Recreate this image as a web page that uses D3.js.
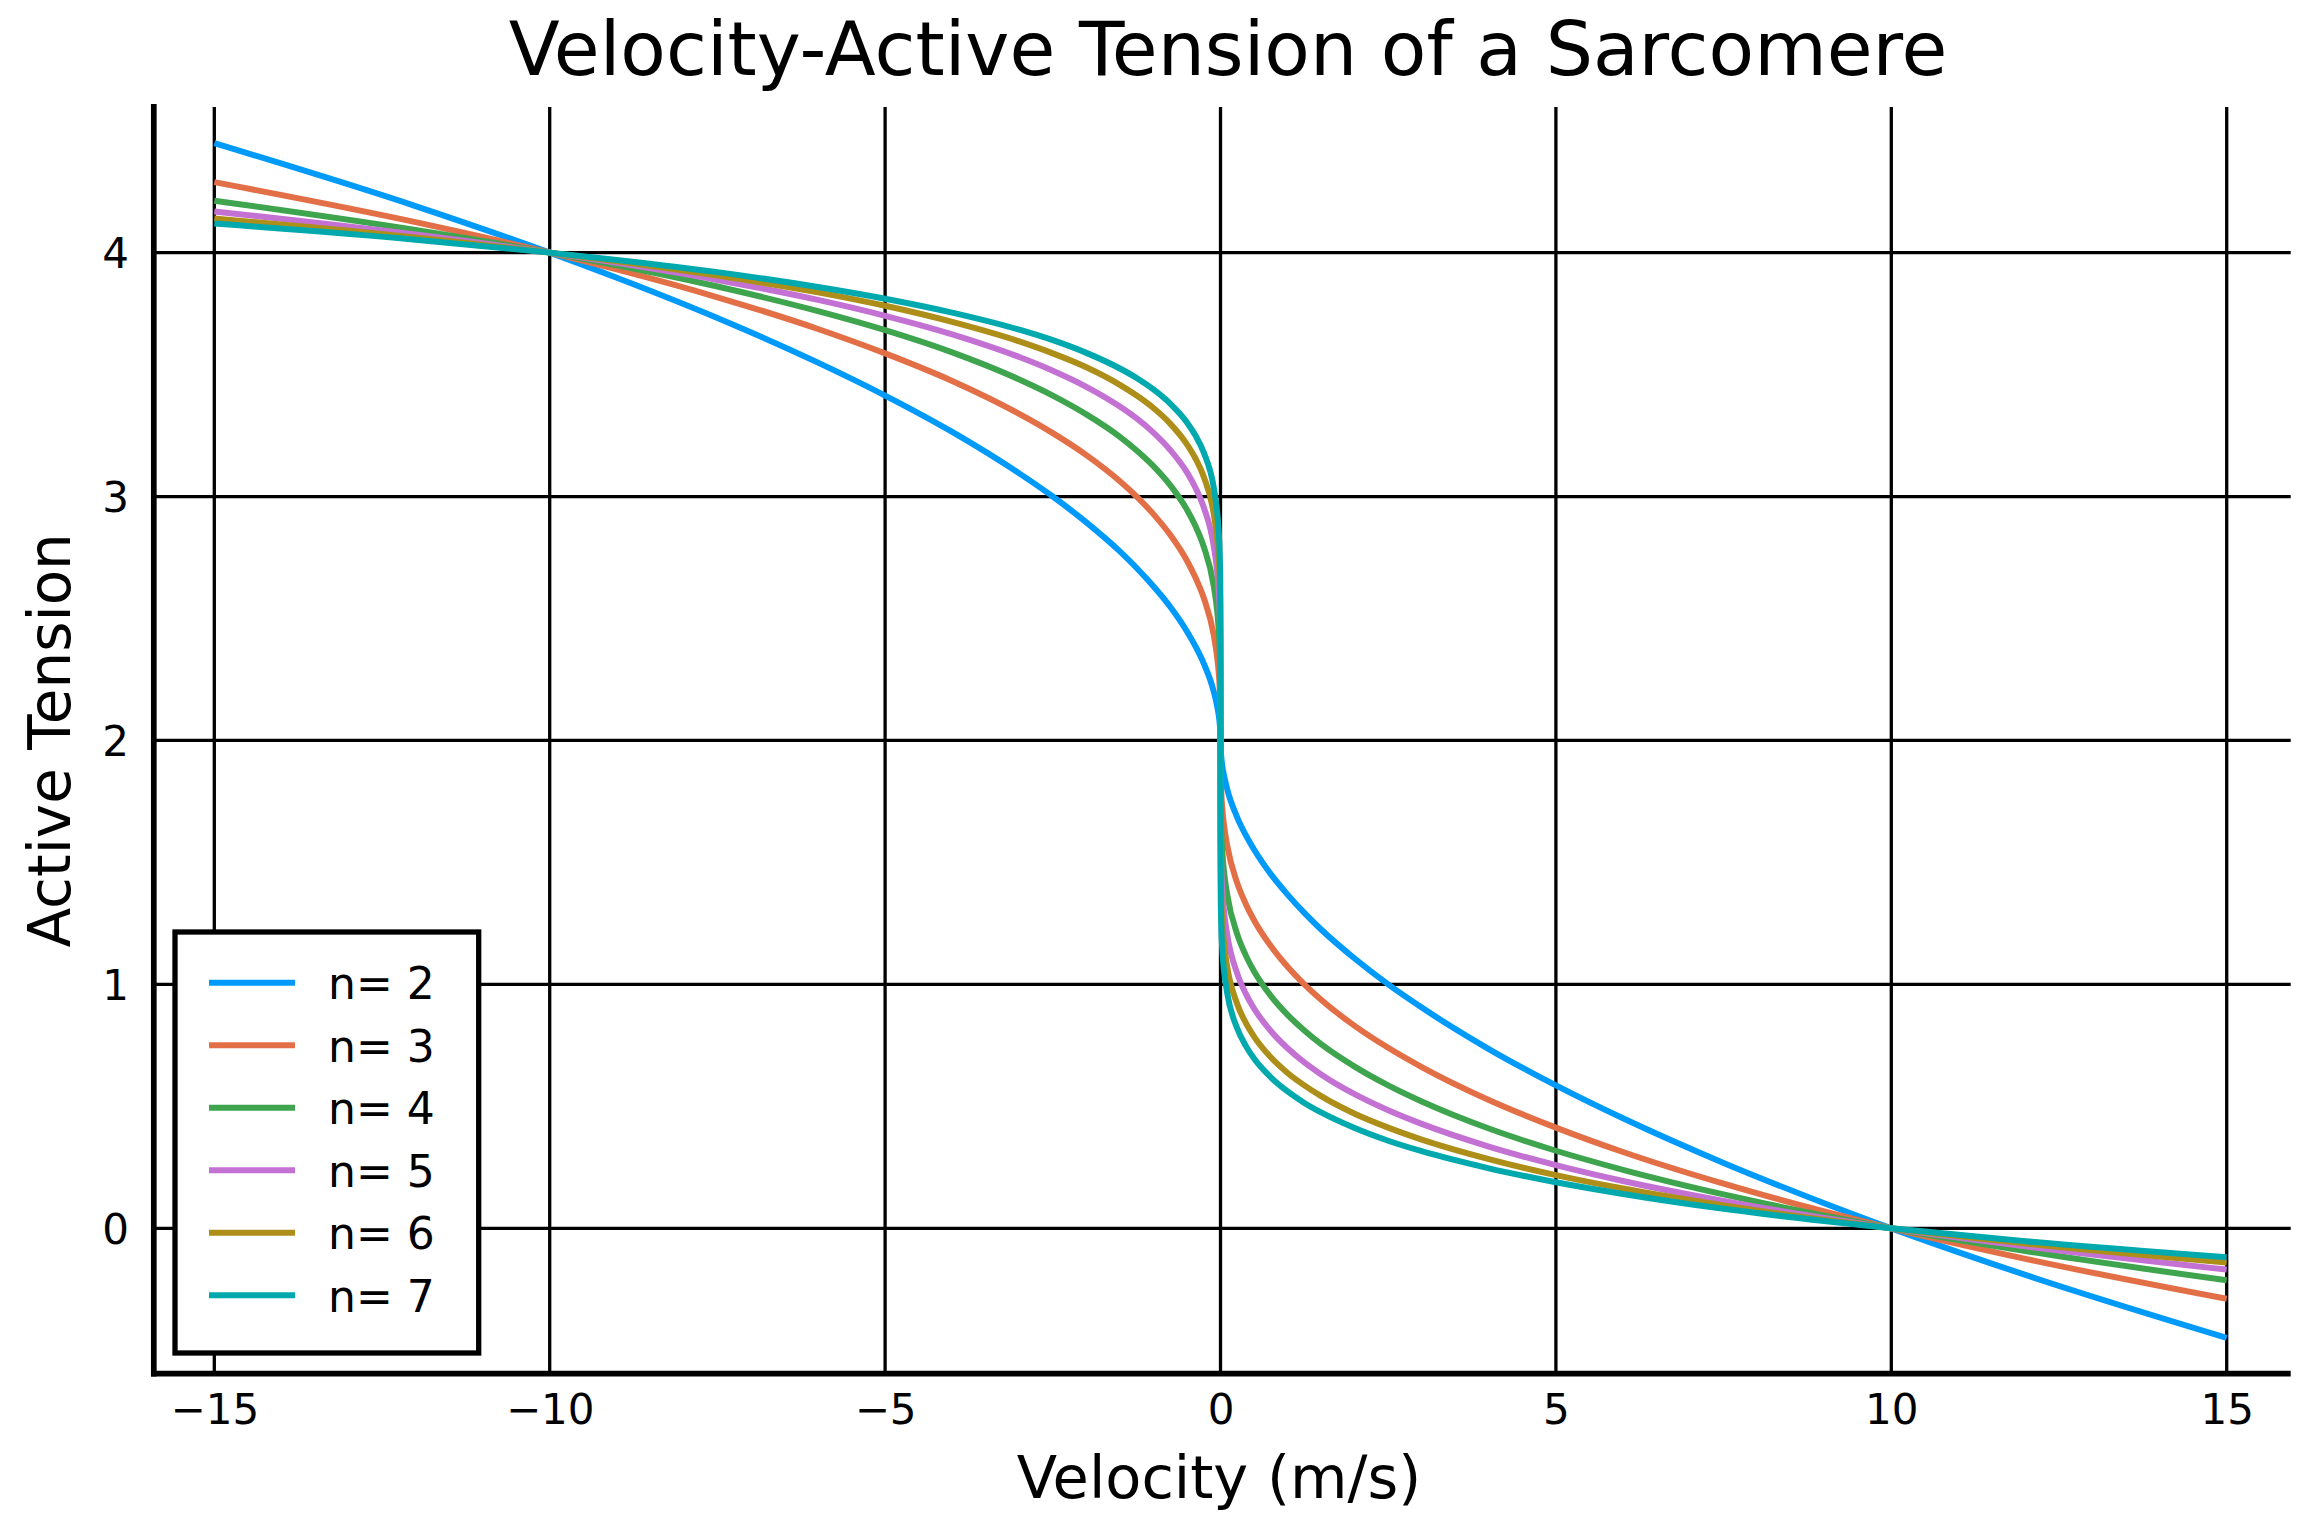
<!DOCTYPE html>
<html>
<head>
<meta charset="utf-8">
<script src="https://cdn.jsdelivr.net/npm/d3@7"></script>
<style>
  body { margin: 0; background: #fff; }
  svg text { font-family: "DejaVu Sans", sans-serif; fill: #000; }
</style>
</head>
<body>
<div id="chart"></div>
<script>
// velocity samples (m/s), denser near zero where the curves turn sharply
const velocity = [-15, -12, -10, -9, -7.5, -6, -5, -4, -3, -2.5, -2, -1.5, -1.25, -1, -0.75, -0.5, -0.375, -0.25, -0.1, -0.05, -0.03, -0.01, -0.002, -0.0001,
  0, 0.0001, 0.002, 0.01, 0.03, 0.05, 0.1, 0.25, 0.375, 0.5, 0.75, 1, 1.25, 1.5, 2, 2.5, 3, 4, 5, 6, 7.5, 9, 10, 12, 15];

// active tension, one array per exponent n
const tensionN2 = [4.449, 4.191, 4.000, 3.897, 3.732, 3.549, 3.414, 3.265, 3.095, 3.000, 2.894, 2.775, 2.707, 2.632, 2.548, 2.447, 2.387, 2.316, 2.200, 2.141, 2.110, 2.063, 2.028, 2.006,
  2.000, 1.994, 1.972, 1.937, 1.890, 1.859, 1.800, 1.684, 1.613, 1.553, 1.452, 1.368, 1.293, 1.225, 1.106, 1.000, 0.905, 0.735, 0.586, 0.451, 0.268, 0.103, 0.000, -0.191, -0.449];
const tensionN3 = [4.289, 4.125, 4.000, 3.931, 3.817, 3.687, 3.587, 3.474, 3.339, 3.260, 3.170, 3.063, 3.000, 2.928, 2.843, 2.737, 2.669, 2.585, 2.431, 2.342, 2.289, 2.200, 2.117, 2.043,
  2.000, 1.957, 1.883, 1.800, 1.711, 1.658, 1.569, 1.415, 1.331, 1.263, 1.157, 1.072, 1.000, 0.937, 0.830, 0.740, 0.661, 0.526, 0.413, 0.313, 0.183, 0.069, 0.000, -0.125, -0.289];
const tensionN4 = [4.213, 4.093, 4.000, 3.948, 3.861, 3.760, 3.682, 3.591, 3.480, 3.414, 3.337, 3.245, 3.189, 3.125, 3.047, 2.946, 2.880, 2.795, 2.632, 2.532, 2.468, 2.356, 2.238, 2.112,
  2.000, 1.888, 1.762, 1.644, 1.532, 1.468, 1.368, 1.205, 1.120, 1.054, 0.953, 0.875, 0.811, 0.755, 0.663, 0.586, 0.520, 0.409, 0.318, 0.240, 0.139, 0.052, 0.000, -0.093, -0.213];
const tensionN5 = [4.169, 4.074, 4.000, 3.958, 3.888, 3.806, 3.741, 3.665, 3.572, 3.516, 3.450, 3.369, 3.320, 3.262, 3.191, 3.099, 3.037, 2.956, 2.796, 2.693, 2.626, 2.502, 2.364, 2.200,
  2.000, 1.800, 1.636, 1.498, 1.374, 1.307, 1.204, 1.044, 0.963, 0.901, 0.809, 0.738, 0.680, 0.631, 0.550, 0.484, 0.428, 0.335, 0.259, 0.194, 0.112, 0.042, 0.000, -0.074, -0.169];
const tensionN6 = [4.140, 4.062, 4.000, 3.965, 3.906, 3.837, 3.782, 3.716, 3.636, 3.587, 3.530, 3.458, 3.414, 3.363, 3.299, 3.214, 3.157, 3.081, 2.928, 2.827, 2.760, 2.632, 2.484, 2.294,
  2.000, 1.706, 1.516, 1.368, 1.240, 1.173, 1.072, 0.919, 0.843, 0.786, 0.701, 0.637, 0.586, 0.542, 0.470, 0.413, 0.364, 0.284, 0.218, 0.163, 0.094, 0.035, 0.000, -0.062, -0.140];
const tensionN7 = [4.119, 4.053, 4.000, 3.970, 3.920, 3.859, 3.811, 3.754, 3.684, 3.641, 3.589, 3.525, 3.486, 3.439, 3.381, 3.304, 3.251, 3.181, 3.036, 2.938, 2.872, 2.746, 2.592, 2.386,
  2.000, 1.614, 1.408, 1.254, 1.128, 1.062, 0.964, 0.819, 0.749, 0.696, 0.619, 0.561, 0.514, 0.475, 0.411, 0.359, 0.316, 0.246, 0.189, 0.141, 0.080, 0.030, 0.000, -0.053, -0.119];

const seriesNames = ["n= 2", "n= 3", "n= 4", "n= 5", "n= 6", "n= 7"];
const seriesValues = [tensionN2, tensionN3, tensionN4, tensionN5, tensionN6, tensionN7];
const colors = ["#009afa", "#e36f47", "#3ea44e", "#c371d2", "#ac8e18", "#00a9ad"];
const xTicks = [-15, -10, -5, 0, 5, 10, 15];
const yTicks = [0, 1, 2, 3, 4];

const W = 2318, H = 1528;
const margin = {top: 107, right: 27.3, bottom: 154.3, left: 153.8};
const width = W - margin.left - margin.right,
      height = H - margin.top - margin.bottom;

const svg = d3.select("#chart").append("svg")
    .attr("width", W)
    .attr("height", H);

const g = svg.append("g")
    .attr("transform", `translate(${margin.left},${margin.top})`);

const x = d3.scaleLinear().domain([-15.902, 15.954]).range([0, width]);
const y = d3.scaleLinear().domain([-0.596, 4.597]).range([height, 0]);

// grid
g.append("g")
  .selectAll("line")
  .data(xTicks)
  .enter().append("line")
    .attr("x1", d => x(d)).attr("x2", d => x(d))
    .attr("y1", 0).attr("y2", height)
    .attr("stroke", "#000").attr("stroke-width", 3.3);
g.append("g")
  .selectAll("line")
  .data(yTicks)
  .enter().append("line")
    .attr("x1", 0).attr("x2", width)
    .attr("y1", d => y(d)).attr("y2", d => y(d))
    .attr("stroke", "#000").attr("stroke-width", 3.3);

// curves
const line = d3.line()
    .x((d, i) => x(velocity[i]))
    .y(d => y(d))
    .curve(d3.curveMonotoneX);

g.selectAll(".curve")
  .data(seriesValues)
  .enter().append("path")
    .attr("class", "curve")
    .attr("fill", "none")
    .attr("stroke", (d, i) => colors[i])
    .attr("stroke-width", 6)
    .attr("stroke-linejoin", "round")
    .attr("d", line);

// axes (labels only, spines drawn below)
const xAxis = g.append("g")
    .attr("transform", `translate(0,${height})`)
    .call(d3.axisBottom(x).tickValues(xTicks).tickSize(0).tickPadding(20.5));
const yAxis = g.append("g")
    .call(d3.axisLeft(y).tickValues(yTicks).tickFormat(d3.format("d")).tickSize(0).tickPadding(24.8));
[xAxis, yAxis].forEach(a => {
  a.select(".domain").remove();
  a.selectAll("text").style("font-size", "42px").attr("fill", "#000");
});
xAxis.selectAll("text").attr("dy", "0.71em");
yAxis.selectAll("text").attr("dy", "0.36em");

// spines
g.append("line")
    .attr("x1", 0).attr("x2", 0).attr("y1", -3).attr("y2", height + 2.8)
    .attr("stroke", "#000").attr("stroke-width", 5.7);
g.append("line")
    .attr("x1", -2.8).attr("x2", width).attr("y1", height).attr("y2", height)
    .attr("stroke", "#000").attr("stroke-width", 5.7);

// labels
svg.append("text")
    .attr("x", 1228)
    .attr("y", 75)
    .attr("text-anchor", "middle")
    .style("font-size", "74.5px")
    .text("Velocity-Active Tension of a Sarcomere");
svg.append("text")
    .attr("x", 1219)
    .attr("y", 1498)
    .attr("text-anchor", "middle")
    .style("font-size", "59px")
    .text("Velocity (m/s)");
svg.append("text")
    .attr("transform", `translate(70,${margin.top + height / 2}) rotate(-90)`)
    .attr("text-anchor", "middle")
    .style("font-size", "58px")
    .text("Active Tension");

// legend
const legend = svg.append("g").attr("transform", "translate(175,932)");
legend.append("rect")
    .attr("width", 303.7).attr("height", 421)
    .attr("fill", "#fff").attr("stroke", "#000").attr("stroke-width", 5.3);
const item = legend.selectAll(".item")
  .data(seriesNames)
  .enter().append("g")
    .attr("transform", (d, i) => `translate(0,${50.7 + i * 62.5})`);
item.append("line")
    .attr("x1", 34).attr("x2", 120)
    .attr("stroke", (d, i) => colors[i]).attr("stroke-width", 6);
item.append("text")
    .attr("x", 153)
    .attr("y", 16.3)
    .style("font-size", "44px")
    .text(d => d);
</script>
</body>
</html>
